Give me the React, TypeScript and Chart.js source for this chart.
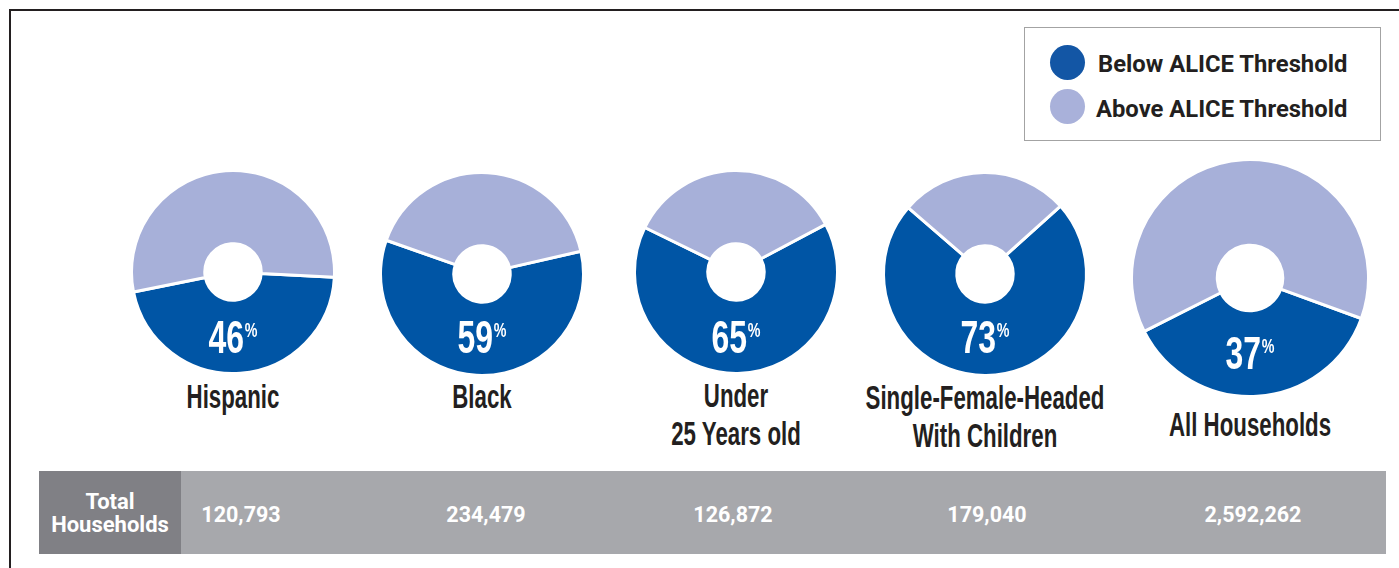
import React, { useEffect, useRef } from "react";
import { Chart, registerables } from "chart.js";

Chart.register(...registerables);

// ---- data ----
const SERIES_LABELS = ["Below ALICE Threshold", "Above ALICE Threshold"];
const CATEGORIES: string[][] = [
  ["Hispanic"],
  ["Black"],
  ["Under", "25 Years old"],
  ["Single-Female-Headed", "With Children"],
  ["All Households"],
];
const BELOW = [46, 59, 65, 73, 37];
const ABOVE = [54, 41, 35, 27, 63];
const TOTAL_HOUSEHOLDS = [120793, 234479, 126872, 179040, 2592262];
const TABLE_HEADER = ["Total", "Households"];

// ---- layout / style ----
const BLUE = "#0055a5";
const LIGHT = "#a7b0d9";
const LEGEND_BLUE = "#1356a5";
const LEGEND_LIGHT = "#a9b1da";
const DONUTS = [
  { cx: 233, cy: 272, r: 100, hole: 28.5, start: 93, pctTop: 319, lblTop: 385 },
  { cx: 481.5, cy: 273.5, r: 100, hole: 28.5, start: 77, pctTop: 319, lblTop: 385 },
  { cx: 735.5, cy: 272, r: 100, hole: 28.5, start: 62, pctTop: 319, lblTop: 384 },
  { cx: 985, cy: 274, r: 100, hole: 28.5, start: 48, pctTop: 319, lblTop: 386 },
  { cx: 1250, cy: 277.5, r: 117, hole: 33, start: 110, pctTop: 335, lblTop: 413 },
];
const VALUE_X = [241, 486, 733, 987, 1253];

const CONDENSED = "'Liberation Sans', Arial, sans-serif";

function Donut({ i }: { i: number }) {
  const ref = useRef<HTMLCanvasElement>(null);
  const d = DONUTS[i];
  const size = Math.ceil(2 * d.r + 8);
  useEffect(() => {
    if (!ref.current) return;
    const chart = new Chart(ref.current, {
      type: "doughnut",
      data: {
        labels: SERIES_LABELS,
        datasets: [
          {
            data: [BELOW[i], ABOVE[i]],
            backgroundColor: [BLUE, LIGHT],
            borderColor: "#ffffff",
            borderWidth: 3,
            radius: d.r + 1.5,
            cutout: d.hole,
            hoverOffset: 0,
          } as any,
        ],
      },
      options: {
        responsive: false,
        animation: false,
        rotation: d.start,
        layout: { padding: 0 },
        events: [],
        plugins: { legend: { display: false }, tooltip: { enabled: false } },
      },
    });
    return () => chart.destroy();
  }, []);
  return (
    <canvas
      ref={ref}
      width={size}
      height={size}
      style={{
        position: "absolute",
        left: d.cx - size / 2,
        top: d.cy - size / 2,
        width: size,
        height: size,
      }}
    />
  );
}

export default function App() {
  return (
    <div
      style={{
        position: "fixed",
        left: 0,
        top: 0,
        width: 1399,
        height: 568,
        overflow: "hidden",
        background: "#ffffff",
      }}
    >
      {/* frame */}
      <div
        style={{
          position: "absolute",
          left: 9,
          top: 9,
          width: 1600,
          height: 800,
          borderTop: "2.5px solid #231f20",
          borderLeft: "2.5px solid #231f20",
        }}
      />

      {/* legend */}
      <div
        style={{
          position: "absolute",
          left: 1024,
          top: 27,
          width: 357,
          height: 114,
          border: "1.5px solid #a3a3a3",
          boxSizing: "border-box",
        }}
      />
      {SERIES_LABELS.map((s, k) => (
        <React.Fragment key={s}>
          <div
            style={{
              position: "absolute",
              left: 1050,
              top: (k === 0 ? 62 : 106.5) - 17.5,
              width: 35,
              height: 35,
              borderRadius: "50%",
              background: k === 0 ? LEGEND_BLUE : LEGEND_LIGHT,
            }}
          />
          <div
            style={{
              position: "absolute",
              left: k === 0 ? 1098 : 1096,
              top: (k === 0 ? 62 : 106.5) - 13,
              height: 30,
              lineHeight: "30px",
              fontFamily: "Roboto, sans-serif",
              fontWeight: 700,
              fontSize: 23.8,
              color: "#231f20",
              whiteSpace: "nowrap",
            }}
          >
            {s}
          </div>
        </React.Fragment>
      ))}

      {/* donuts */}
      {DONUTS.map((d, i) => (
        <Donut key={i} i={i} />
      ))}

      {/* percent labels */}
      {DONUTS.map((d, i) => (
        <div
          key={"p" + i}
          style={{
            position: "absolute",
            left: d.cx - 100,
            width: 200,
            top: d.pctTop - 6,
            textAlign: "center",
            fontFamily: CONDENSED,
            fontWeight: 700,
            color: "#ffffff",
            lineHeight: "47px",
            whiteSpace: "nowrap",
            transform: "scaleX(0.68)",
            transformOrigin: "center",
          }}
        >
          <span style={{ fontSize: 47 }}>{BELOW[i]}</span>
          <span
            style={{
              fontSize: 21,
              lineHeight: "21px",
              verticalAlign: "top",
              position: "relative",
              top: 6,
              marginLeft: 1,
            }}
          >
            %
          </span>
        </div>
      ))}

      {/* category labels */}
      {DONUTS.map((d, i) => (
        <div
          key={"c" + i}
          style={{
            position: "absolute",
            left: d.cx - 200,
            width: 400,
            top: d.lblTop - 7.3,
            textAlign: "center",
            fontFamily: CONDENSED,
            fontWeight: 700,
            fontSize: 33,
            lineHeight: "38px",
            color: "#231f20",
            whiteSpace: "nowrap",
            transform: "scaleX(0.675)",
            transformOrigin: "center",
          }}
        >
          {CATEGORIES[i].map((line, j) => (
            <div key={j}>{line}</div>
          ))}
        </div>
      ))}

      {/* table */}
      <div
        style={{
          position: "absolute",
          left: 39,
          top: 471,
          width: 142,
          height: 83,
          background: "#808085",
          color: "#ffffff",
          fontFamily: "Roboto, sans-serif",
          fontWeight: 700,
          fontSize: 22,
          lineHeight: "23px",
          textAlign: "center",
          display: "flex",
          flexDirection: "column",
          justifyContent: "center",
        }}
      >
        {TABLE_HEADER.map((h) => (
          <div key={h}>{h}</div>
        ))}
      </div>
      <div
        style={{
          position: "absolute",
          left: 181,
          top: 471,
          width: 1205,
          height: 83,
          background: "#a7a8ac",
        }}
      />
      {TOTAL_HOUSEHOLDS.map((v, i) => (
        <div
          key={"v" + i}
          style={{
            position: "absolute",
            left: VALUE_X[i] - 100,
            width: 200,
            top: 500,
            height: 30,
            lineHeight: "30px",
            textAlign: "center",
            color: "#ffffff",
            fontFamily: "Roboto, sans-serif",
            fontWeight: 700,
            fontSize: 21.5,
          }}
        >
          {v.toLocaleString("en-US")}
        </div>
      ))}
    </div>
  );
}
